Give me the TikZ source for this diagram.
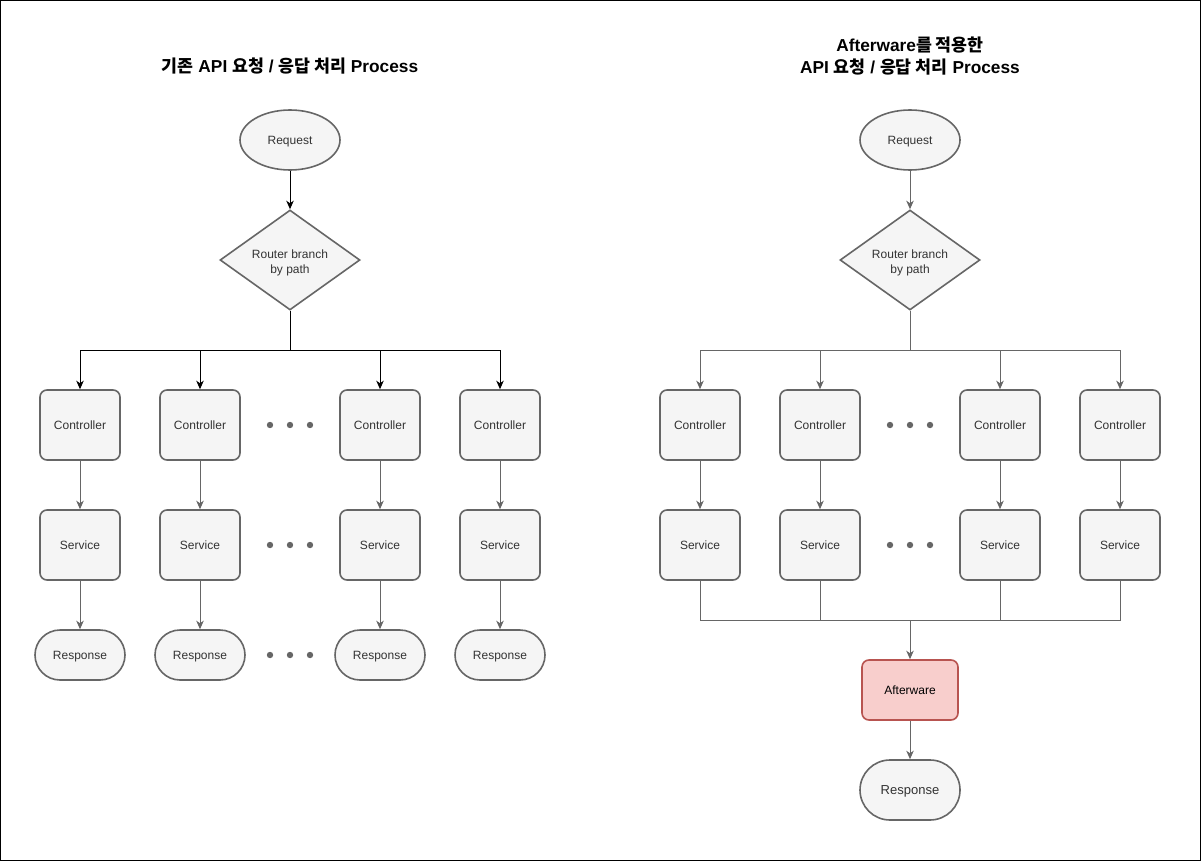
\documentclass[tikz,border=0pt]{standalone}
\usepackage{fontspec}
\setmainfont{Liberation Sans}
\newfontfamily\krbold{Noto Sans CJK KR Bold}
\usetikzlibrary{shapes.geometric,arrows.meta}
\definecolor{boxfill}{HTML}{F5F5F5}
\definecolor{boxline}{HTML}{666666}
\definecolor{boxtext}{HTML}{333333}
\definecolor{awfill}{HTML}{F8CECC}
\definecolor{awline}{HTML}{B85450}
\newcommand{\kr}[1]{{\krbold #1}}
% two centred lines, set a little below the middle of their node
\newcommand{\twolines}[2]{\raisebox{0pt}[\dimexpr\height+6pt\relax][\depth]{\begin{tabular}{@{}c@{}}#1\\#2\end{tabular}}}
\tikzset{
  base/.style={draw=boxline, fill=boxfill, line width=1.6pt, text=boxtext,
    inner sep=0pt, font=\fontsize{12}{15}\selectfont, text height=8.6pt, text depth=0pt},
  proc/.style={base, rectangle, rounded corners=7pt, minimum width=80pt, minimum height=70pt},
  start/.style={base, ellipse, minimum width=100pt, minimum height=60pt},
  decide/.style={base, diamond, aspect=1.4, minimum width=140pt, minimum height=100pt,
    text height=, text depth=},
  stadium/.style={base, rectangle, rounded corners=25pt, minimum width=90pt, minimum height=50pt},
  bigstadium/.style={base, rectangle, rounded corners=30pt, minimum width=100pt, minimum height=60pt,
    font=\fontsize{13}{15}\selectfont, text height=9.3pt},
  after/.style={base, rectangle, rounded corners=7pt, draw=awline, fill=awfill, text=black,
    minimum width=96pt, minimum height=60pt},
  link/.style={line width=1pt, draw=boxline},
  arr/.style={link, -{Stealth[length=8.5pt,width=7.5pt,inset=2.5pt]}},
  blackarr/.style={arr, draw=black},
  blacklink/.style={link, draw=black},
  title/.style={font=\fontsize{17.3}{22.5}\selectfont\bfseries, align=center, inner sep=0pt},
  dotmark/.style={fill=boxline}
}
\begin{document}
\begin{tikzpicture}[x=1pt, y=-1pt]
  % frame
  \draw[line width=1pt] (0.5,0.5) rectangle (1200.5,860.5);

  % ---------- plain flow ----------
  \node[title] (titleL) at (290,66) {\kr{기존} API \kr{요청} / \kr{응답 처리} Process};
  \node[start] (reqL) at (290,140) {Request};
  \node[decide] (rtL) at (290,260) {\twolines{Router branch}{by path}};
  \coordinate (splitL) at (290,350);
  \draw[blackarr] (reqL) -- (rtL);
  \draw[blacklink] (rtL.south) -- (splitL);
  \foreach \i/\x in {1/80, 2/200, 3/380, 4/500} {
    \node[proc] (cL\i) at (\x,425) {Controller};
    \node[proc] (sL\i) at (\x,545) {Service};
    \node[stadium] (pL\i) at (\x,655) {Response};
    \draw[blackarr] (splitL) -| (cL\i);
    \draw[arr] (cL\i) -- (sL\i);
    \draw[arr] (sL\i) -- (pL\i);
  }
  \foreach \y in {425,545,655}
    \foreach \x in {270,290,310}
      \fill[dotmark] (\x,\y) circle (3.2pt);

  % ---------- flow with Afterware ----------
  \node[title] (titleR) at (910,56) {Afterware\kr{를 적용한}\\API \kr{요청} / \kr{응답 처리} Process};
  \node[start] (reqR) at (910,140) {Request};
  \node[decide] (rtR) at (910,260) {\twolines{Router branch}{by path}};
  \coordinate (splitR) at (910,350);
  \coordinate (joinR) at (910,620);
  \draw[arr] (reqR) -- (rtR);
  \draw[link] (rtR.south) -- (splitR);
  \foreach \i/\x in {1/700, 2/820, 3/1000, 4/1120} {
    \node[proc] (cR\i) at (\x,425) {Controller};
    \node[proc] (sR\i) at (\x,545) {Service};
    \draw[arr] (splitR) -| (cR\i);
    \draw[arr] (cR\i) -- (sR\i);
    \draw[link] (sR\i) |- (joinR);
  }
  \foreach \y in {425,545}
    \foreach \x in {890,910,930}
      \fill[dotmark] (\x,\y) circle (3.2pt);
  \node[after] (aw) at (910,690) {Afterware};
  \node[bigstadium] (resR) at (910,790) {Response};
  \draw[arr] (joinR) -- (aw);
  \draw[arr] (aw) -- (resR);
\end{tikzpicture}
\end{document}
